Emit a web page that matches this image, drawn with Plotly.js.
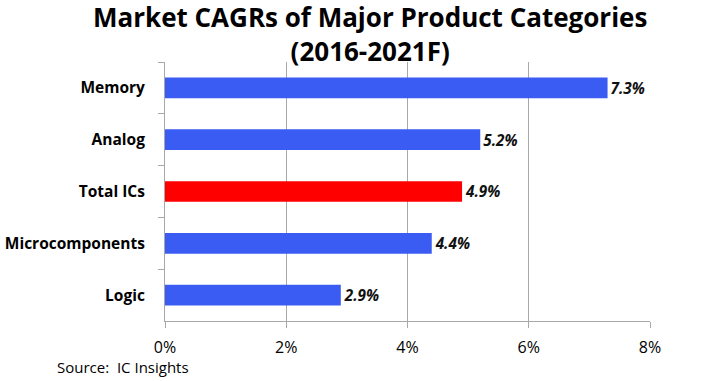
<!DOCTYPE html>
<html>
<head>
<meta charset="utf-8">
<script src="https://cdn.plot.ly/plotly-3.0.1.min.js"></script>
<style>html,body{margin:0;padding:0;background:#fff;}#chart{width:719px;height:381px;}</style>
</head>
<body>
<div id="chart"></div>
<script>
const categories = ["Memory", "Analog", "Total ICs", "Microcomponents", "Logic"];
const cagrValues = [7.3, 5.2, 4.9, 4.4, 2.9];
const barColors = ["#3b5cf2", "#3b5cf2", "#ff0000", "#3b5cf2", "#3b5cf2"];
const xTickValues = [0, 2, 4, 6, 8];
const xTickLabels = ["0%", "2%", "4%", "6%", "8%"];
const titleText = "Market CAGRs of Major Product Categories<br>(2016-2021F)";
const sourceText = "Source:  IC Insights";

const font = "'Open Sans', sans-serif";

const trace = {
  type: "bar",
  orientation: "h",
  y: categories,
  x: cagrValues,
  marker: {color: barColors},
  texttemplate: "<i>%{x:.1f}%</i>",
  textposition: "outside",
  cliponaxis: false,
  textfont: {family: font, size: 17, color: "#111", weight: "bold"},
  hoverinfo: "none"
};

const layout = {
  width: 719, height: 381,
  margin: {l: 165, r: 69, t: 62, b: 60},
  paper_bgcolor: "#fff", plot_bgcolor: "#fff",
  showlegend: false,
  bargap: 0.6,
  xaxis: {
    range: [0, 8],
    tickvals: xTickValues, ticktext: xTickLabels,
    showgrid: true, gridcolor: "#a8a8a8", gridwidth: 1,
    showline: true, linecolor: "#a8a8a8", linewidth: 1,
    ticks: "outside", ticklen: 6, tickcolor: "#a8a8a8",
    ticklabelstandoff: 6,
    zeroline: false,
    tickfont: {family: font, size: 16, color: "#000"}
  },
  yaxis: {
    type: "category",
    autorange: "reversed",
    showline: true, linecolor: "#a8a8a8", linewidth: 1,
    ticks: "outside", ticklen: 6, tickcolor: "#a8a8a8",
    tickson: "boundaries",
    showgrid: false,
    ticklabelstandoff: 16,
    tickfont: {family: font, size: 15.5, color: "#000", weight: "bold"}
  },
  annotations: [
    {
      text: titleText, xref: "paper", yref: "paper",
      x: (370 - 165) / 485, y: 1, yshift: 28,
      xanchor: "center", yanchor: "middle", showarrow: false,
      borderpad: 0,
      font: {family: font, size: 26, color: "#000", weight: "bold"}
    },
    {
      text: sourceText, xref: "paper", yref: "paper",
      x: (55 - 165) / 485, y: 0, yshift: -46,
      xanchor: "left", yanchor: "middle", showarrow: false,
      font: {family: font, size: 15, color: "#000"}
    }
  ]
};

Plotly.newPlot("chart", [trace], layout, {displayModeBar: false, staticPlot: true});
</script>
</body>
</html>
